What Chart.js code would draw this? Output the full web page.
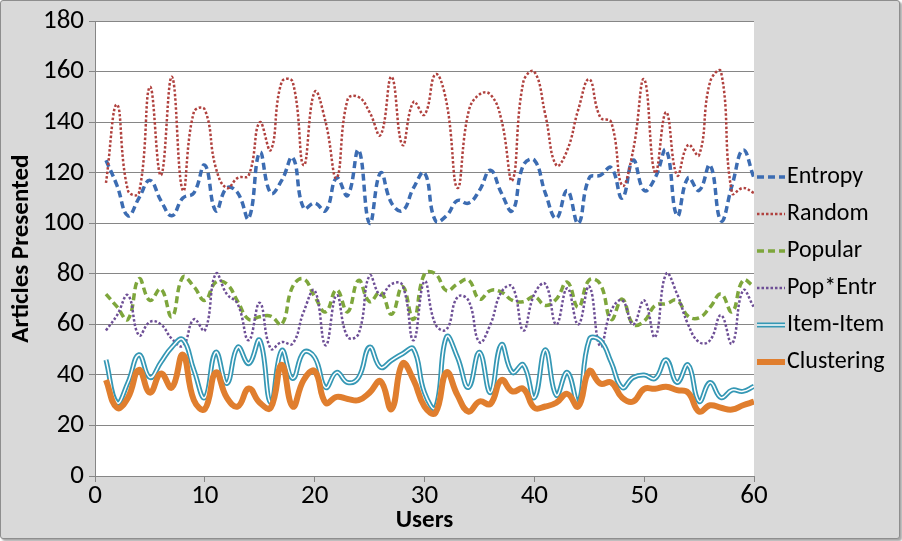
<!DOCTYPE html>
<html><head><meta charset="utf-8">
<script src="https://cdn.jsdelivr.net/npm/chart.js@4/dist/chart.umd.min.js"></script>
<style>
html,body{margin:0;padding:0;background:#fff;}
#frame{position:absolute;left:0;top:0;width:898px;height:537px;background:#d9d9d9;border:1px solid #8e8e8e;border-radius:3px;box-shadow:2px 2px 2px rgba(0,0,0,0.35);}
#wrap{position:absolute;left:0;top:0;width:902px;height:541px;}
</style></head><body>
<div id="frame"></div>
<div id="wrap"><canvas id="c" width="902" height="541"></canvas></div>
<script>
const users = [1,2,3,4,5,6,7,8,9,10,11,12,13,14,15,16,17,18,19,20,21,22,23,24,25,26,27,28,29,30,31,32,33,34,35,36,37,38,39,40,41,42,43,44,45,46,47,48,49,50,51,52,53,54,55,56,57,58,59,60];
const xTicks = [0,10,20,30,40,50,60];
const yTicks = [0,20,40,60,80,100,120,140,160,180];
const entropy = [125,115,103,110,117,109,103,110,112,123,105,114,112,102,128,112,117,126,106,108,105,118,111,129,100,120,108,105,114,120,101,103,109,108,113,121,112,105,123,125,112,102,113,100,118,119,122,110,125,113,118,129,103,118,113,123,101,115,129,118];
const random = [116,147,113,112,154,119,158,113,144,145,122,114,118,119,140,129,156,156,123,152,140,118,149,150,144,135,158,131,148,143,159,148,114,144,151,151,141,117,156,160,143,123,129,145,157,142,140,115,129,157,120,144,119,131,127,156,160,112,114,112];
const popular = [72,67,62,78,69.5,74,63,78.7,75,69.5,76.7,76,69,62,63,63.3,60,75,78,71,65,73.7,65,77.4,69,72.8,64,75,62,80,80,73.4,76,77.6,70,73.4,72.8,69.5,69,71,67.5,70,76.7,66.8,77.6,76,62,70,60,61.3,67.5,68.2,69.5,63.3,62.6,66.8,72,65,77.4,75];
const popEntr = [57.6,63.6,71.5,55.7,61,60,54.3,51.5,62,57.6,80,72,68,53.7,68.5,50.4,53,52.4,65,73.4,51.7,71.5,55,56.3,79.3,71.5,76,75.5,53.7,77,60,58,70.8,69.5,53,60,72.8,75,57.6,72,76,60,74.3,60,75,51.3,65.5,69.5,60,69.5,55,80,72,60,53,53.7,63.6,52.4,73.4,66.8];
const itemItem = [46,29,37,48,39,45,51,54,42,31,49,36.6,51,44.5,53.7,29,49.7,38.6,49,47,35,41,37,39,51,43,45.8,48.4,50.3,33,27,55,47,35,49,33,52,41,44,31,50,32,41,29,54,53.7,45,35,39,40,38.6,46,37,44,29.5,37,31,34,33.5,35.5];
const clustering = [38,27,31,42,33,40.5,35,48,30,26.5,41,31,27.5,34.6,29,27,44,27.5,38,41.5,29,31.3,30.5,30,33,37.5,26.5,44.5,38,27.5,25,41,32,25.5,29.5,28.5,38,33.5,34.5,27,27.5,29,32.5,27.5,41.5,36.6,37,31,29.5,34.5,34.5,35.3,34,33,25.5,28,27,26.3,28,29.4];

const C = {entropy:'#3c6cb2', random:'#b0413e', popular:'#7ea63c', popEntr:'#6e4f96', item:'#3598b5', clus:'#e07e2e'};
const FONT = 'Carlito, Lato, sans-serif';

function sample(kind, color){
  const cv = document.createElement('canvas');
  cv.width = 30; cv.height = 12;
  const g = cv.getContext('2d');
  g.strokeStyle = color;
  const y = 6;
  function seg(w, dash){ g.lineWidth = w; g.setLineDash(dash||[]); g.beginPath(); g.moveTo(1,y); g.lineTo(29,y); g.stroke(); }
  if(kind==='dash') seg(3.5,[7,4]);
  else if(kind==='dot') seg(2.5,[2.5,2]);
  else if(kind==='double'){ seg(5); g.strokeStyle='#fff'; seg(1.5); }
  else seg(6);
  return cv;
}
const pts = arr => users.map((u,i)=>({x:u, y:arr[i]}));

const whiteArea = { id:'whiteArea', beforeDraw(chart){ const a=chart.chartArea, g=chart.ctx; g.save(); g.fillStyle='#fff'; g.fillRect(a.left,a.top,a.right-a.left,a.bottom-a.top); g.restore(); } };
const legendFix = { id:'legendFix',
  beforeUpdate(chart){ const lg=chart.legend; if(lg && !lg._fixed){ const f=lg.fit.bind(lg); lg.fit=function(){ f(); this.width=148; }; lg._fixed=true; } },
  afterLayout(chart){ const lg=chart.legend; if(lg){ lg.bottom = 519; } }
};

const common = {pointRadius:0, pointHoverRadius:0, tension:0.45, fill:false, borderCapStyle:'butt'};
new Chart(document.getElementById('c'), {
  type:'line',
  data:{ datasets:[
    Object.assign({label:'Entropy', data:pts(entropy), borderColor:C.entropy, borderWidth:3.5, borderDash:[7,4], order:7, pointStyle:sample('dash',C.entropy)}, common),
    Object.assign({label:'Random', data:pts(random), borderColor:C.random, borderWidth:2.5, borderDash:[2.5,2], order:6, pointStyle:sample('dot',C.random)}, common),
    Object.assign({label:'Popular', data:pts(popular), borderColor:C.popular, borderWidth:3.5, borderDash:[7,4], order:5, pointStyle:sample('dash',C.popular)}, common),
    Object.assign({label:'Pop*Entr', data:pts(popEntr), borderColor:C.popEntr, borderWidth:2.5, borderDash:[2.5,2], order:4, pointStyle:sample('dot',C.popEntr)}, common),
    Object.assign({label:'Item-Item', data:pts(itemItem), borderColor:C.item, borderWidth:5, order:3, pointStyle:sample('double',C.item)}, common),
    Object.assign({label:'', data:pts(itemItem), borderColor:'#ffffff', borderWidth:1.5, order:2}, common),
    Object.assign({label:'Clustering', data:pts(clustering), borderColor:C.clus, borderWidth:6, order:1, pointStyle:sample('solid',C.clus)}, common)
  ]},
  options:{
    responsive:false, animation:false, events:[],
    layout:{padding:{top:20,left:0,right:0,bottom:0}},
    plugins:{
      tooltip:{enabled:false},
      legend:{ position:'right', align:'center',
        labels:{ usePointStyle:true, pointStyleWidth:8, boxHeight:20, padding:13, color:'#000',
          font:{family:FONT, size:24},
          filter:item=>item.text!=='',
          sort:(a,b)=>a.datasetIndex-b.datasetIndex } }
    },
    scales:{
      x:{ type:'linear', min:0, max:60,
        afterBuildTicks(s){ s.ticks = xTicks.map(v=>({value:v})); },
        afterFit(s){ s.height = 65; },
        ticks:{ color:'#000', font:{family:FONT, size:27}, padding:-2, maxRotation:0 },
        grid:{ drawOnChartArea:false, color:'#868686', tickLength:6 },
        border:{ color:'#868686', width:1 },
        title:{ display:true, text:'Users', color:'#000', font:{family:FONT, size:25, weight:'bold'}, padding:{top:0,bottom:5} } },
      y:{ min:0, max:180,
        afterBuildTicks(s){ s.ticks = yTicks.map(v=>({value:v})); },
        afterFit(s){ s.width = 95; },
        ticks:{ color:'#000', font:{family:FONT, size:27}, padding:5 },
        grid:{ color:'#868686', tickLength:6 },
        border:{ color:'#868686', width:1 },
        title:{ display:true, text:'Articles Presented', color:'#000', font:{family:FONT, size:25, weight:'bold'}, padding:{top:7,bottom:0} } }
    }
  },
  plugins:[whiteArea, legendFix]
});
</script>
</body></html>
